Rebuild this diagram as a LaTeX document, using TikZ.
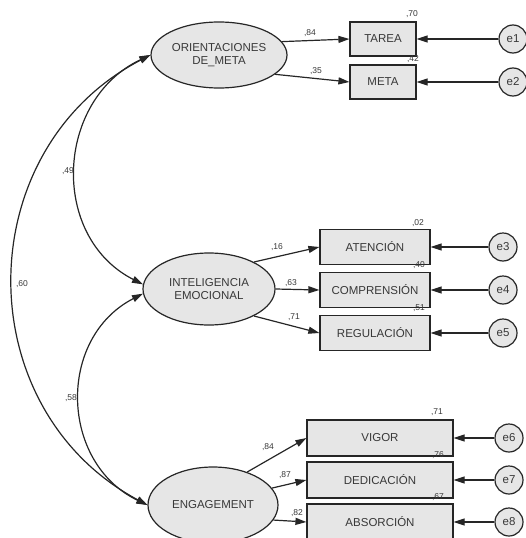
\documentclass[tikz,border=0pt]{standalone}
\usepackage{fontspec}
\setmainfont{Liberation Sans}
\usetikzlibrary{arrows.meta,shapes.geometric}
\definecolor{linec}{HTML}{262626}
\definecolor{fillc}{HTML}{E6E6E6}
\definecolor{textc}{HTML}{383838}
\begin{document}
\begin{tikzpicture}[x=1pt,y=-1pt,
  lat/.style={ellipse, draw=linec, fill=fillc, line width=1.2pt, inner sep=0pt, align=center,
    font=\fontsize{11.5}{12.5}\selectfont, text=textc},
  obs/.style={rectangle, draw=linec, fill=fillc, line width=1.2pt, inner sep=0pt,
    font=\fontsize{11.5}{12.5}\selectfont, text=textc},
  err/.style={circle, draw=linec, fill=fillc, line width=1.2pt, minimum size=28pt, inner sep=0pt,
    font=\fontsize{11.5}{12.5}\selectfont, text=textc},
  reg/.style={draw=linec, line width=1.2pt, -{Triangle[length=11pt,width=7pt]}},
  cov/.style={draw=linec, line width=1.2pt, {Triangle[length=11pt,width=7pt]}-{Triangle[length=11pt,width=7pt]}},
  num/.style={font=\fontsize{8.5}{9}\selectfont, text=textc, inner sep=0pt}
]
\useasboundingbox (0,0) rectangle (526,538);

% latent variables
\node[lat, minimum width=136pt, minimum height=66pt] (OM) at (219,55) {ORIENTACIONES\\DE\_META};
\node[lat, minimum width=132pt, minimum height=72pt] (IE) at (209,289) {INTELIGENCIA\\EMOCIONAL};
\node[lat, minimum width=130pt, minimum height=76pt] (EN) at (213,505) {ENGAGEMENT};

% observed variables
\node[obs, minimum width=66pt, minimum height=34pt] (TA) at (383,39) {TAREA};
\node[obs, minimum width=66pt, minimum height=34pt] (ME) at (383,82) {META};
\node[obs, minimum width=110pt, minimum height=35pt] (AT) at (375,247) {ATENCIÓN};
\node[obs, minimum width=110pt, minimum height=35pt] (CO) at (375,290) {COMPRENSIÓN};
\node[obs, minimum width=110pt, minimum height=35pt] (RE) at (375,333) {REGULACIÓN};
\node[obs, minimum width=146pt, minimum height=36pt] (VI) at (380,438) {VIGOR};
\node[obs, minimum width=146pt, minimum height=36pt] (DE) at (380,480) {DEDICACIÓN};
\node[obs, minimum width=146pt, minimum height=36pt] (AB) at (380,522) {ABSORCIÓN};

% errors
\node[err] (e1) at (513,39) {e1};
\node[err] (e2) at (513,82) {e2};
\node[err] (e3) at (503,247) {e3};
\node[err] (e4) at (503,290) {e4};
\node[err] (e5) at (503,333) {e5};
\node[err] (e6) at (509,438) {e6};
\node[err] (e7) at (509,480) {e7};
\node[err] (e8) at (509,522) {e8};

% loadings
\draw[reg] (OM.12) -- (TA.west);
\draw[reg] (OM.-19) -- (ME.west);
\draw[reg] (IE.31) -- (AT.west);
\draw[reg] (IE.east) -- (CO.west);
\draw[reg] (IE.-31) -- (RE.west);
\draw[reg] (EN.44) -- (VI.west);
\draw[reg] (EN.16) -- (DE.west);
\draw[reg] (EN.-14) -- (AB.west);

% error paths
\foreach \e/\v in {e1/TA,e2/ME,e3/AT,e4/CO,e5/RE,e6/VI,e7/DE,e8/AB}
  \draw[reg] (\e.west) -- (\v.east);

% covariances
\draw[cov] (OM.west) .. controls (-31.5,149.7) and (-32.7,408.5) .. (EN.west);
\draw[cov] (OM.west) .. controls (55.3,100) and (49.4,236.7) .. (IE.176);
\draw[cov] (IE.184) .. controls (56.5,338.2) and (59.9,463) .. (EN.west);

% labels
\node[num] (l1) at (310,33) {,84};
\node[num] (l2) at (316,71) {,35};
\node[num] (l3) at (412,14) {,70};
\node[num] (l4) at (413,59) {,42};
\node[num] (l5) at (277,247) {,16};
\node[num] (l6) at (291,283) {,63};
\node[num] (l7) at (294,317) {,71};
\node[num] (l8) at (418,223) {,02};
\node[num] (l9) at (419,265) {,40};
\node[num] (l10) at (419,308) {,51};
\node[num] (l11) at (268,447) {,84};
\node[num] (l12) at (285,475) {,87};
\node[num] (l13) at (297,513) {,82};
\node[num] (l14) at (437,412) {,71};
\node[num] (l15) at (438,455) {,76};
\node[num] (l16) at (438,497) {,67};
\node[num] (l17) at (68,171) {,49};
\node[num] (l18) at (22,284) {,60};
\node[num] (l19) at (71,398) {,58};
\end{tikzpicture}
\end{document}
